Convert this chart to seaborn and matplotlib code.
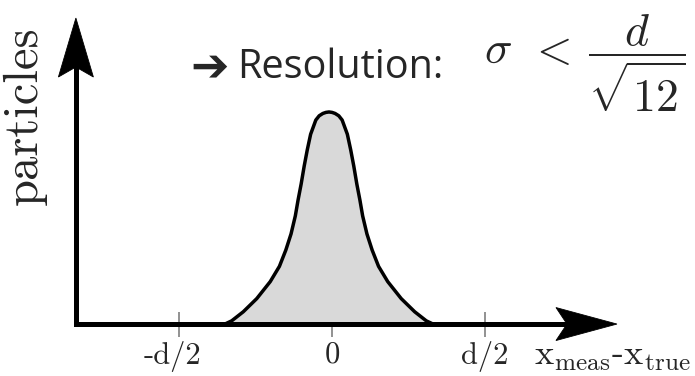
import matplotlib
matplotlib.use("Agg")
import matplotlib.pyplot as plt
import matplotlib.transforms as mtransforms
from matplotlib.patches import Polygon
import seaborn as sns

# Resolution profile: offset from the true position (units of the pitch d)
CURVE_X = [-0.350, -0.328, -0.290, -0.246, -0.202, -0.172, -0.151, -0.134, -0.120,
           -0.111, -0.101, -0.091, -0.081, -0.070, -0.053, -0.042, -0.030, -0.020,
           -0.010, 0.000, 0.010, 0.022, 0.033, 0.050, 0.061, 0.071, 0.081, 0.091,
           0.100, 0.114, 0.131, 0.152, 0.182, 0.226, 0.270, 0.308, 0.330]
# relative number of particles
CURVE_Y = [0.000, 0.015, 0.058, 0.120, 0.200, 0.272, 0.349, 0.425, 0.510,
           0.585, 0.660, 0.745, 0.821, 0.895, 0.962, 0.982, 0.993, 0.998,
           1.000, 0.998, 0.993, 0.982, 0.962, 0.895, 0.821, 0.745, 0.660, 0.585,
           0.510, 0.425, 0.349, 0.272, 0.200, 0.120, 0.058, 0.015, 0.000]

TICK_POS = [-0.5, 0.0, 0.5]
TICK_LABELS = ["-d/2", "0", "d/2"]
X_LABEL = r"$\mathrm{x}_{\mathrm{meas}}$-$\mathrm{x}_{\mathrm{true}}$"
Y_LABEL = "particles"
TITLE_MARK = "\u2794"
TITLE = "Resolution:"
FORMULA = r"$\sigma\;\,<\:\dfrac{d}{\sqrt{12}}$"

sns.set_theme(style="white")
plt.rcParams["mathtext.fontset"] = "cm"

fig = plt.figure(figsize=(6.95, 3.76), dpi=100)
ax = fig.add_axes([0, 0, 1, 1])
ax.set_xlim(-1.085, 1.186)
ax.set_ylim(-0.245, 1.528)

# filled profile
ax.fill_between(CURVE_X, CURVE_Y, 0, color="#d9d9d9", lw=0, zorder=1)
sns.lineplot(x=CURVE_X, y=CURVE_Y, ax=ax, color="black", lw=2.5, zorder=2,
             solid_joinstyle="round", solid_capstyle="round")

# coordinate axes drawn as arrows
x0 = -0.837
x_tip = 0.931
y_tip = 1.443
lw_axis = 3.6
ax.plot([x0, x_tip - 0.15], [0, 0], color="black", lw=lw_axis,
        solid_capstyle="projecting", zorder=4)
ax.plot([x0, x0], [0, y_tip - 0.22], color="black", lw=lw_axis,
        solid_capstyle="projecting", zorder=4)


def arrow_head(xd, yd, verts):
    tr = fig.dpi_scale_trans + mtransforms.ScaledTranslation(xd, yd, ax.transData)
    ax.add_patch(Polygon(verts, closed=True, transform=tr, facecolor="black",
                         edgecolor="black", lw=0.6, zorder=5))


arrow_head(x_tip, 0, [(0, 0), (-0.61, 0.165), (-0.50, 0), (-0.61, -0.165)])
arrow_head(x0, y_tip, [(0, 0), (-0.175, -0.59), (0, -0.49), (0.175, -0.59)])

# ticks on the x axis line
ax.spines["bottom"].set_position(("data", 0))
for s in ax.spines.values():
    s.set_visible(False)
ax.set_xticks(TICK_POS)
ax.set_xticklabels(TICK_LABELS)
ax.set_yticks([])
ax.tick_params(axis="x", direction="inout", length=18, width=1.2,
               color="#7f7f7f", labelsize=22, pad=3, bottom=True)
for lbl in ax.get_xticklabels():
    lbl.set_fontfamily("cmr10")
    if lbl.get_text().startswith("-"):
        lbl.set_transform(lbl.get_transform()
                          + mtransforms.ScaledTranslation(-7 / 100, 0, fig.dpi_scale_trans))
ax.grid(False)

ax.text(534 / 695, 1 - 365 / 376, X_LABEL, transform=ax.transAxes,
        fontsize=26, family="cmr10", ha="left", va="baseline")
ax.text(25 / 695, 1 - 116 / 376, Y_LABEL, transform=ax.transAxes,
        fontsize=35, family="cmr10", rotation=90, ha="center", va="center")
ax.text(190 / 695, 1 - 80 / 376, TITLE_MARK, transform=ax.transAxes,
        fontsize=33, family="DejaVu Sans", ha="left", va="baseline")
ax.text(237 / 695, 1 - 78 / 376, TITLE, transform=ax.transAxes,
        fontsize=28.5, family=["Open Sans", "DejaVu Sans"], ha="left", va="baseline")
ax.text(484 / 695, 1 - 63 / 376, FORMULA, transform=ax.transAxes,
        fontsize=33, ha="left", va="center")

fig.savefig("out.png", dpi=100, facecolor="white")
